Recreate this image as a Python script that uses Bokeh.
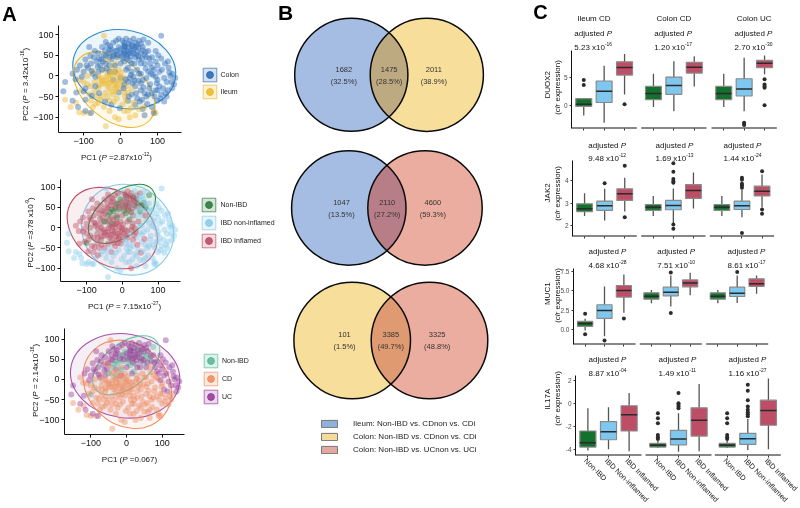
import numpy as np
from bokeh.core.properties import value
from bokeh.embed import file_html
from bokeh.resources import INLINE
from bokeh.plotting import figure
from bokeh.layouts import row, column
from bokeh.models import (ColumnDataSource, Label, Legend, LegendItem, FixedTicker, Range1d)

FONT = "Liberation Sans"

# ---------- PCA samples: (PC1, PC2, tissue+status+disease)
samples = [
 (-30,45,"CNN"),(-25,40,"CNN"),(-20,48,"CNN"),(-35,38,"INN"),(-10,45,"CNN"),(5,42,"CNN"),(10,35,"CNN"),(15,48,"CNN"),(25,38,"CNN"),
 (-85,70,"CFU"),(-70,60,"CFU"),(-60,55,"CFU"),(-50,70,"CFU"),(-35,75,"CFU"),(-20,80,"CFU"),(-10,60,"CFU"),(5,85,"CFU"),(15,90,"CFU"),
 (140,5,"CQU"),(148,-5,"CQU"),(145,-20,"CQU"),(135,0,"CQU"),(125,-15,"CQU"),(115,-30,"CQU"),(105,10,"CQU"),(90,15,"CQU"),(80,30,"CQU"),
 (-150,-58,"IQC"),(-135,-75,"IQC"),(-120,-65,"IQC"),(-112,-88,"IQC"),(-100,-90,"IQC"),(-85,-90,"IQC"),(-75,-75,"IQC"),(-60,-65,"IQC"),
 (-110,-10,"IFC"),(-100,-15,"IFC"),(-90,-20,"IFC"),(-80,-25,"IFC"),(-70,-15,"IFC"),(-60,-30,"IFC"),(-50,-20,"IFC"),(-40,-10,"IFC"),
 (35,55,"CNN"),(45,60,"CNN"),(55,55,"CNN"),(60,62,"CNN"),(40,70,"CNN"),(-5,70,"CNN"),(10,75,"CNN"),(15,60,"CNN"),(0,55,"CNN"),
 (20,70,"CFU"),(25,85,"CFU"),(-95,40,"CFU"),(-80,30,"CFU"),(-65,35,"CFU"),(-55,25,"CFU"),(-45,50,"CFU"),(-25,65,"CFU"),(0,65,"CFU"),
 (-20,-10,"CFC"),(0,-5,"CFC"),(20,-15,"CQC"),(40,-25,"CQC"),(60,-10,"CQC"),(80,-20,"CQC"),(95,-35,"CQC"),(110,-45,"CQC"),(125,-50,"CQC"),
 (-45,-75,"IQC"),(-40,-122,"IQC"),(-30,-85,"IQC"),(-15,-100,"IQC"),(-5,-105,"IQC"),(10,-85,"IQC"),(25,-100,"IFC"),(20,-85,"IQC"),(40,-95,"IQC"),
 (-30,-30,"IFC"),(-25,-15,"IFC"),(-20,0,"IFC"),(-10,-25,"IFC"),(-5,-10,"IFC"),(0,-30,"IFC"),(10,-40,"IQC"),(5,-15,"IFC"),(-35,5,"IFC"),
 (60,70,"CQU"),(75,60,"CQU"),(85,45,"CQU"),(95,35,"CQU"),(110,97,"CQU"),(120,30,"CQU"),(130,20,"CQU"),(70,45,"CQU"),(55,30,"CQU"),
 (10,55,"CFU"),(30,60,"CFU"),(40,80,"CFU"),(50,85,"CFU"),(-110,25,"CFU"),(-100,10,"CFU"),(-75,5,"CFU"),(-60,10,"CFU"),(-30,25,"CFU"),
 (100,-10,"CQC"),(75,10,"CQC"),(50,5,"CQC"),(30,10,"CFC"),(10,-20,"CFC"),(20,-60,"CQC"),(40,-70,"CQC"),(60,-80,"CQC"),(65,-95,"CQC"),
 (50,-80,"IQC"),(65,-75,"IQC"),(90,-85,"IQC"),(95,-90,"IQC"),(35,-65,"IQC"),(15,-60,"IQC"),(-10,-55,"IQC"),(-30,-60,"IFC"),(-50,-50,"IFC"),
 (-45,15,"IFC"),(-25,20,"IFC"),(-15,30,"IFC"),(-5,15,"IFC"),(-60,0,"IFC"),(-75,10,"IFC"),(-90,0,"IFC"),(-105,-35,"IFC"),(-85,-45,"IFC"),
 (-15,60,"CNN"),(-40,30,"CNN"),(-50,15,"CNN"),(-30,10,"CNN"),(-15,25,"CNN"),(20,20,"CNN"),(50,40,"CNN"),(65,50,"CNN"),(30,75,"CNN"),(75,80,"CNN"),(-100,-38,"CNN"),
 (40,45,"CQU"),(25,55,"CQU"),(10,70,"CQU"),(-5,90,"CQU"),(62,88,"CQU"),(35,90,"CQU"),(45,75,"CQU"),(95,60,"CQU"),(-155,-37,"CQU"),(-150,-15,"CQU"),
 (-15,10,"CFU"),(0,30,"CFU"),(15,15,"CFU"),(30,30,"CFU"),(-120,-40,"CFU"),(-130,-60,"CQU"),(-115,-75,"CQU"),(-95,-85,"CQU"),(-80,-90,"CQU"),
 (85,-75,"CQC"),(90,-90,"CQC"),(45,-55,"CQC"),(70,-50,"CQC"),(100,-60,"CQC"),(30,-45,"CQC"),(55,-35,"CQC"),(75,-45,"CQC"),(-5,-40,"CFC"),(-25,-70,"CQC"),
 (-65,-50,"IFC"),(-40,-40,"IFC"),(-20,-45,"IFC"),(20,-40,"IQC"),(30,-30,"IFC"),(-45,97,"IQC"),(-55,-10,"IFC"),(-35,-25,"IFC"),(-15,-30,"IFC"),(15,-25,"IFC"),
 (10,80,"CFU"),(22,78,"CFU"),(32,72,"CFU"),(48,68,"CQU"),(55,78,"CQU"),(68,58,"CQU"),(-12,85,"CFU"),(-28,72,"CFU"),(-42,62,"CFU"),(-8,50,"CFU"),(18,42,"CFU"),(38,30,"CQU"),
 (105,-25,"CQU"),(118,-5,"CQU"),(128,-35,"CQC"),(138,-15,"CQU"),(112,15,"CQU"),(98,-18,"CQC"),(88,2,"CQC"),(100,25,"CQU"),(108,-55,"CQC"),(132,8,"CQU"),
 (-118,15,"CFU"),(-122,-8,"CFC"),(-130,5,"CFC"),(-95,-30,"CFC"),(-88,20,"CFU"),(-72,45,"CFU"),(-58,42,"CFC"),(-68,-2,"CFC"),(-48,35,"CFC"),(-38,18,"CFC"),
 (-80,-60,"IFC"),(-68,-68,"IFC"),(-55,-58,"IQC"),(-35,-50,"IQC"),(-18,-62,"IQC"),(5,-70,"IQC"),(28,-78,"IQC"),(52,-62,"CFC"),(12,-50,"IQC"),(-2,-78,"CQC"),
 (-52,-5,"IFC"),(-42,-18,"IFC"),(-28,-8,"IFC"),(-12,-15,"IFC"),(8,-5,"IFC"),(-22,8,"IFC"),(-8,2,"IFC"),(2,8,"IFC"),(14,-8,"CFC"),(25,-5,"CFC"),
 (33,-18,"CFC"),(48,-12,"CQC"),(42,-42,"CFC"),(62,-28,"CFC"),(70,-5,"CQC"),(85,-42,"CQC"),(68,18,"CQC"),(45,15,"CFC"),(28,2,"CFC"),(58,-58,"CQC"),
 (8,62,"CFU"),(18,52,"CFU"),(28,48,"CFU"),(35,65,"CFU"),(42,52,"CFU"),(12,72,"CFU"),(-18,52,"CFU"),(-32,55,"CFU"),(5,50,"CFU"),(22,62,"CFU"),(48,48,"CQU"),(58,42,"CQU"),
 (-48,-12,"IFC"),(-38,-2,"IFC"),(-32,-18,"IFC"),(-18,-22,"IFC"),(-12,-38,"IFC"),(-24,-38,"IFC"),(-6,-20,"IFC"),(-2,0,"IFC"),(-16,12,"IFC"),(-28,2,"IFC"),(-58,-22,"IFC"),(-70,-38,"IFC"),
 (-78,12,"CFU"),(-62,22,"CFU"),(-52,40,"CFU"),(-40,48,"CFU"),(-82,48,"CFU"),(-92,25,"CFU"),(-105,-2,"CFU"),(-68,-25,"CFC"),(-58,-42,"CFC"),(-78,-48,"CFC"),(-95,-58,"CFC"),(-42,-62,"CQC"),
 (8,-30,"CQC"),(22,-50,"CQC"),(38,-12,"CFC"),(55,-18,"CQC"),(65,-42,"CQC"),(78,-30,"CQC"),(92,-50,"CQC"),(118,-62,"CQC"),(100,-35,"CQC"),(82,5,"CQC"),(122,-42,"CQC"),(72,-68,"CQC"),
 (55,5,"CQC"),(35,-2,"CFC"),(65,30,"CFC"),(85,20,"CQU"),(110,42,"CQU"),(102,50,"CQU"),(128,35,"CQU"),(140,-30,"CQU"),(95,-2,"CQU"),(78,42,"CQU"),(-30,62,"CFU"),(-40,82,"CFU"),
]

tissue_colors = {"C": "#2F6DB8", "I": "#EDB92E"}
status_colors = {"N": "#2E7D3E", "Q": "#8CCBEB", "F": "#BD4F66"}
disease_colors = {"N": "#5DB89B", "C": "#EE8F63", "U": "#9A3D98"}

pc1_labels = [("PC1 (", "P", " =2.87x10", "-12", ")"), ("PC1 (", "P", " = 7.15x10", "-27", ")"), ("PC1 (", "P", " =0.067", "", ")")]
pc2_labels = [("PC2 (", "P", " = 3.42x10", "-16", ")"), ("PC2 (", "P", " =3.78 x10", "-9", ")"), ("PC2 (", "P", " = 2.14x10", "-16", ")")]

# ellipses: centre x, y, width, height (data units), angle (rad), colour
ell_a1 = [(10, 16, 281, 189, -0.2, "#2B8CCF"), (-17, -33, 254, 145, -0.7, "#EDB92E")]
ell_a2 = [(15, -5, 266, 217, -0.7, "#8CCBEB"), (-28, -1, 272, 180, -0.6, "#BD4F66"), (-1, 34, 218, 109, 0.66, "#2E8B47")]
ell_a3 = [(-4, 9, 308, 207, -0.15, "#A84FA8"), (2, -12, 269, 198, -0.78, "#EE8F63"), (-1, 35, 218, 109, 0.66, "#6CC4A8")]

# ---------- Venn
venn_counts = [["1682", "1475", "2011"], ["1047", "2110", "4600"], ["101", "3385", "3325"]]
venn_pcts = [["(32.5%)", "(28.5%)", "(38.9%)"], ["(13.5%)", "(27.2%)", "(59.3%)"], ["(1.5%)", "(49.7%)", "(48.8%)"]]
venn_legend = ["Ileum: Non-IBD vs. CDnon vs. CDi", "Colon: Non-IBD vs. CDnon vs. CDi", "Colon: Non-IBD vs. UCnon vs. UCi"]

# ---------- Box plots, order: three groups x three facets
genes = ["DUOX2", "JAK2", "MUC1", "IL17A"]
groups = ["Non-IBD", "IBD Non-inflamed", "IBD Inflamed"]
facet_titles = ["Ileum CD", "Colon CD", "Colon UC"]

duox2_q1 = [-0.2,0.5,5.35, 1.0,1.95,5.7, 1.0,1.65,6.65]
duox2_med = [0.2,2.5,6.7, 2.1,3.5,6.75, 2.1,2.9,7.45]
duox2_q3 = [1.2,4.3,7.7, 3.35,5.0,7.6, 3.35,4.7,7.95]
duox2_lo = [-1.8,-3.1,1.9, -0.3,-1.05,3.35, -0.3,-1.05,5.5]
duox2_hi = [1.2,7.0,9.1, 5.6,7.8,8.7, 5.6,8.4,8.8]
duox2_out = [[4.5,3.6],[],[0.2], [],[],[], [],[-3.1,-3.3,-3.5],[4.6,3.7,3.35,3.1,0.0]]

jak2_q1 = [2.62,2.68,3.12, 2.68,2.71,3.21, 2.68,2.72,3.32]
jak2_med = [2.75,2.88,3.41, 2.82,2.9,3.56, 2.82,2.88,3.53]
jak2_q3 = [2.97,3.09,3.63, 2.94,3.12,3.82, 2.94,3.09,3.75]
jak2_lo = [2.43,2.24,2.63, 2.43,2.12,2.76, 2.43,2.38,2.82]
jak2_hi = [3.44,3.63,4.12, 3.32,3.65,4.35, 3.32,3.59,4.26]
jak2_out = [[],[3.88],[4.65,2.38], [],[4.76,4.38,4.06,3.97,3.9,2.06,1.87],[], [],[4.12,4.03,3.85,3.78,3.68,1.68],[4.41,2.72,2.53]]

muc1_q1 = [0.43,1.45,4.18, 3.92,4.35,5.5, 3.92,4.26,5.54]
muc1_med = [0.81,2.47,5.03, 4.3,4.81,6.0, 4.3,4.69,5.88]
muc1_q3 = [1.07,3.2,5.67, 4.73,5.45,6.39, 4.73,5.45,6.52]
muc1_lo = [-0.1,-0.85,2.17, 3.4,2.98,4.43, 3.4,3.41,4.6]
muc1_hi = [1.4,5.54,7.07, 5.1,6.95,7.29, 5.1,6.95,6.95]
muc1_out = [[2.05,-0.6],[-1.4],[1.45], [],[7.33,2.13],[], [],[7.41],[]]

il17a_q1 = [-3.82,-3.18,-2.42, -3.82,-3.62,-2.86, -3.82,-3.59,-1.92]
il17a_med = [-3.44,-2.48,-1.02, -3.67,-3.12,-1.49, -3.67,-3.09,-0.64]
il17a_q3 = [-2.42,-1.6,-0.23, -3.5,-2.36,-0.41, -3.5,-2.62,0.26]
il17a_lo = [-4.11,-4.0,-4.17, -3.9,-4.23,-4.17, -3.9,-4.08,-4.0]
il17a_hi = [-0.44,-0.35,0.87, -3.3,-0.87,1.66, -3.3,-1.37,2.13]
il17a_out = [[],[],[], [-0.87,-1.31,-1.75,-2.77,-2.97,-3.12],[0.87,0.0,-0.15,-0.29,-0.44],[],
             [-0.87,-1.31,-1.75,-2.77,-2.97,-3.12],[1.6,1.08,0.26,-0.29,-0.58,-0.79,-0.96,-1.14],[]]

adj_p = [[("5.23 x10","-16"),("1.20 x10","-17"),("2.70 x10","-30")],
         [("9.48 x10","-12"),("1.69 x10","-13"),("1.44 x10","-24")],
         [("4.68 x10","-28"),("7.51 x10","-10"),("8.61 x10","-17")],
         [("8.87 x10","-04"),("1.49 x10","-11"),("1.16 x10","-27")]]

# ---------- overlay holding the free text and legends, page coordinates
ov = figure(width=800, height=508, min_border=0, x_range=Range1d(0, 800), y_range=Range1d(508, 0), x_axis_type=None, y_axis_type=None,
            toolbar_location=None, output_backend="svg", tools="", outline_line_color=None,
            background_fill_color=None, border_fill_color=None, margin=(-508, 0, 0, 0), frame_align=False)
ov.grid.visible = False

W = {" ":.278,".":.278,"-":.333,"=":.584,"(":.333,")":.333,"x":.5,"P":.667,"C":.722,"a":.556,"d":.556,"j":.222,"u":.556,
     "s":.5,"t":.278,"e":.556,"c":.5,"l":.222,"r":.333,"p":.556,"i":.222,"o":.556,"n":.556}
def tw(s, fs):
    return sum(W.get(c, .556) for c in s) * fs

def add_lbl(px, py, text, fs, color="#111111", style="normal", angle=0.0, align="left", baseline="alphabetic"):
    ov.add_layout(Label(x=px, y=py, text=text, text_font=FONT, text_font_size=f"{fs}px", text_color=color,
                        text_font_style=style, text_align=align, text_baseline=baseline, angle=angle))

def rich(cx, cy, segs, fs=8, vertical=False, color="#111111"):
    sizes = [fs * .62 if k == "s" else fs for _, k in segs]
    total = sum(tw(t, s) for (t, _), s in zip(segs, sizes))
    pos = -total / 2
    for (t, k), s in zip(segs, sizes):
        if not t:
            continue
        rise = fs * .38 if k == "s" else 0
        style = "italic" if k == "i" else "normal"
        stripped = t.lstrip(" ")
        lead = tw(t[:len(t) - len(stripped)], s)
        body = stripped.rstrip(" ")
        if vertical:
            add_lbl(cx + fs * .35 - rise, cy - pos - lead, body, s, color, style, angle=np.pi / 2)
        else:
            add_lbl(cx + pos + lead, cy + fs * .35 - rise, body, s, color, style)
        pos += tw(t, s)

def base_fig(width, height, fl, fr, ft, fb, xr, yr):
    p = figure(width=width, height=height, min_border_left=fl, min_border_right=fr, min_border_top=ft, min_border_bottom=fb,
               x_range=Range1d(*xr), y_range=Range1d(*yr), toolbar_location=None, output_backend="svg",
               tools="", outline_line_color=None, background_fill_color=None, border_fill_color=None, frame_align=False)
    p.grid.visible = False
    return p

def pca_panel(width, height, fl, fr, ft, fb, xr, yr, key, colors, ells, labels, ticks_y, lab_pos, legend_cfg):
    p = base_fig(width, height, fl, fr, ft, fb, xr, yr)
    for ax in (p.xaxis[0], p.yaxis[0]):
        ax.axis_line_color = "#111111"; ax.axis_line_width = 1
        ax.major_tick_line_color = "#111111"; ax.major_tick_out = 3; ax.major_tick_in = 0
        ax.minor_tick_line_color = None
        ax.major_label_text_font = FONT; ax.major_label_text_font_size = "9px"; ax.major_label_text_color = "#111111"
        ax.major_label_standoff = 2
    p.xaxis[0].ticker = FixedTicker(ticks=[-100, 0, 100])
    p.xaxis[0].major_label_overrides = {-100: "\u2212100", 0: "0", 100: "100"}
    p.yaxis[0].ticker = FixedTicker(ticks=ticks_y)
    p.yaxis[0].major_label_overrides = {t: (("\u2212" + str(-t)) if t < 0 else str(t)) for t in ticks_y}
    for cx, cy, w_, h_, a, c in ells:
        p.ellipse(x=[cx], y=[cy], width=[w_], height=[h_], angle=[a], fill_color=c, fill_alpha=.09, line_color=c, line_width=1.1)
    src = ColumnDataSource(dict(x=[s[0] for s in samples], y=[s[1] for s in samples],
                                c=[colors[s[2][key]] for s in samples]))
    p.scatter("x", "y", source=src, size=6, fill_color="c", line_color=None, fill_alpha=.45)
    items = []
    for name, code in legend_cfg["items"]:
        c = colors[code]
        q = ov.quad(left=[np.nan], right=[np.nan], top=[np.nan], bottom=[np.nan], fill_color=c, fill_alpha=.2, line_color=c, line_alpha=.7, line_width=1)
        s = ov.scatter(x=[np.nan], y=[np.nan], size=7, fill_color=c, fill_alpha=.9, line_color=c)
        items.append(LegendItem(label=name, renderers=[q, s]))
    leg = Legend(items=items, location=legend_cfg["loc"], glyph_width=17, glyph_height=17, label_height=17, label_width=10,
                 label_standoff=legend_cfg["standoff"], spacing=legend_cfg["spacing"], margin=0, padding=0,
                 border_line_color=None, background_fill_color=None, background_fill_alpha=0,
                 label_text_font=FONT, label_text_font_size="7px", label_text_color="#222222", label_text_baseline="middle")
    ov.add_layout(leg)
    a, b_, c_, d, e = labels[0]
    rich(lab_pos[0], lab_pos[1], [(a, "n"), (b_, "i"), (c_, "n"), (d, "s"), (e, "n")])
    a, b_, c_, d, e = labels[1]
    rich(lab_pos[2], lab_pos[3], [(a, "n"), (b_, "i"), (c_, "n"), (d, "s"), (e, "n")], vertical=True)
    return p

a1 = pca_panel(276, 165, 58, 95, 25, 33, (-168, 165), (-137, 122), 0, tissue_colors, ell_a1,
               (pc1_labels[0], pc2_labels[0]), [-100, -50, 0, 50, 100], (116, 154, 22, 84),
               dict(items=[("Colon", "C"), ("Ileum", "I")], loc=(200.5, 408.5), standoff=3, spacing=0))
a2 = pca_panel(276, 153, 60, 96, 14, 37, (-173, 163), (-133, 119), 1, status_colors, ell_a2,
               (pc1_labels[1], pc2_labels[1]), [-100, -50, 0, 50, 100], (124, 303, 27, 232),
               dict(items=[("Non-IBD", "N"), ("IBD non-inflamed", "Q"), ("IBD Inflamed", "F")], loc=(199.5, 259), standoff=4, spacing=1))
a3 = pca_panel(276, 190, 64, 92, 10, 74, (-174, 162.5), (-136, 126), 2, disease_colors, ell_a3,
               (pc1_labels[2], pc2_labels[2]), [-100, -50, 0, 50, 100], (129, 455.7, 32, 380),
               dict(items=[("Non-IBD", "N"), ("CD", "C"), ("UC", "U")], loc=(202, 103.5), standoff=3, spacing=1))
col_a = column(a1, a2, a3, spacing=0)
add_lbl(9, 13, "A", 20, "#000000", "bold", align="center", baseline="middle")
add_lbl(285, 12, "B", 21, "#000000", "bold", align="center", baseline="middle")
add_lbl(540, 11, "C", 20, "#000000", "bold", align="center", baseline="middle")

# ---------- Panel B
b = figure(width=254, height=508, min_border=0, x_range=Range1d(276, 530), y_range=Range1d(508, 0), x_axis_type=None, y_axis_type=None,
           toolbar_location=None, output_backend="svg", tools="", outline_line_color=None, background_fill_color=None, border_fill_color=None, frame_align=False)
b.grid.visible = False
BLUE, YEL, SAL = "#A5BCE3", "#F7DE9B", "#EBAD9F"
venn_geom = [(350.8, 426.3, 74.3, 56.6, BLUE, YEL, "#BDAA80", 69.3, 80.7, (343.3, 388.7, 433.3)),
             (348.3, 424.5, 207.5, 57.2, BLUE, SAL, "#B77E88", 202.3, 214, (341, 386.7, 432.3)),
             (351.7, 429, 340, 58.3, YEL, SAL, "#DF9A72", 334.3, 346, (344, 390.3, 436.7))]
for i, (lx, rx, cy, r, cl, cr, cm, ty1, ty2, txs) in enumerate(venn_geom):
    b.circle(x=[lx], y=[cy], radius=r, fill_color=cl, line_color=None)
    b.circle(x=[rx], y=[cy], radius=r, fill_color=cr, line_color=None)
    hw = np.arccos((rx - lx) / 2 / r)
    t1 = np.linspace(-hw, hw, 60)
    t2 = np.linspace(np.pi - hw, np.pi + hw, 60)
    b.patch(np.r_[lx + r * np.cos(t1), rx + r * np.cos(t2)], np.r_[cy + r * np.sin(t1), cy + r * np.sin(t2)], fill_color=cm, line_color=None)
    b.circle(x=[lx, rx], y=[cy, cy], radius=r, fill_color=None, line_color="#0A0A0A", line_width=1.5)
    b.text(x=list(txs), y=[ty1] * 3, text=venn_counts[i], text_font_size="7.5px", text_align="center", text_baseline="middle", text_color="#333333", text_font=value(FONT))
    b.text(x=list(txs), y=[ty2] * 3, text=venn_pcts[i], text_font_size="7.5px", text_align="center", text_baseline="middle", text_color="#333333", text_font=value(FONT))
b_items = []
for lab, c in zip(venn_legend, ["#8FB2DC", "#F3DC9A", "#E3A8A0"]):
    q = ov.quad(left=[np.nan], right=[np.nan], top=[np.nan], bottom=[np.nan], fill_color=c, line_color="#777777", line_width=1)
    b_items.append(LegendItem(label=lab, renderers=[q]))
ov.add_layout(Legend(items=b_items, location=(319, 54), glyph_width=20, glyph_height=9, label_height=9, label_width=10,
                     label_standoff=14, spacing=4, margin=0, padding=0, border_line_color=None, background_fill_alpha=0,
                     background_fill_color=None, label_text_font=FONT, label_text_font_size="8px", label_text_color="#222222",
                     label_text_baseline="middle"))

# ---------- Panel C
BOX_COL = ["#13702E", "#7EC8F0", "#BE4D66"]

def box_row(height, fl, ft, fb, yr, starts, fwidth, yticks, ylabs, data, head, ylab_y, row_idx, last=False):
    q1, med, q3, lo, hi, out = data
    ppu = fwidth / 3.2
    frame_left = 530 + fl
    offs = [(s - frame_left) / ppu for s in starts]
    xr = (0.4, 0.4 + (800 - frame_left) / ppu)
    p = base_fig(270, height, fl, 0, ft, fb, xr, yr)
    X = []
    for o in offs:
        X += [round(o + k, 4) for k in (1, 2, 3)]
    cols = BOX_COL * 3
    p.segment(x0=[.4 + o for o in offs], x1=[3.6 + o for o in offs], y0=[yr[0]] * 3, y1=[yr[0]] * 3, line_color="#111111", line_width=2)
    p.segment(x0=X, x1=X, y0=lo, y1=hi, line_color="#555555", line_width=1.3)
    p.vbar(x=X, width=.78, top=q3, bottom=q1, fill_color=cols, line_color="#8A8A8A", line_width=1.2)
    p.segment(x0=[x - .39 for x in X], x1=[x + .39 for x in X], y0=med, y1=med, line_color="#2B2B2B", line_width=1.5)
    ox = [x for x, o_ in zip(X, out) for _ in o_]
    oy = [v for o_ in out for v in o_]
    p.scatter(ox, oy, size=4, fill_color="#2B2B2B", line_color=None)
    xa = p.xaxis[0]
    xa.axis_line_color = None
    xa.ticker = FixedTicker(ticks=X)
    xa.major_tick_line_color = "#333333"; xa.major_tick_out = 2; xa.major_tick_in = 0
    xa.minor_tick_line_color = None
    xa.major_label_overrides = {x: "" for x in X}
    if last:
        for i, x in enumerate(X):
            px = frame_left + (x - .4) * ppu
            add_lbl(px - 2.5, 459, groups[i % 3], 7.4, "#222222", angle=-np.pi / 4, baseline="middle")
    ya = p.yaxis[0]
    ya.ticker = FixedTicker(ticks=yticks)
    ya.major_label_overrides = ylabs
    ya.major_label_text_font = FONT; ya.major_label_text_font_size = "6.5px"; ya.major_label_text_color = "#4D4D4D"
    ya.axis_line_color = "#111111"; ya.major_tick_line_color = "#333333"; ya.major_tick_out = 2; ya.major_tick_in = 0
    ya.minor_tick_line_color = None; ya.major_label_standoff = 2
    for i, cx in enumerate(head["cx"]):
        if "t0" in head:
            rich(cx, head["t0"], [(facet_titles[i], "n")])
        rich(cx, head["t1"], [("adjusted ", "n"), ("P", "i")])
        rich(cx, head["t2"], [(adj_p[row_idx][i][0], "n"), (adj_p[row_idx][i][1], "s")])
    rich(544, ylab_y, [(genes[row_idx], "n")], vertical=True)
    rich(554, ylab_y, [("(", "n"), ("clr", "i"), (" expression)", "n")], vertical=True)
    return p

c1 = box_row(135, 41, 50, 7, (-4.1, 9.7), [571, 640.7, 711], 65.3, [0, 5], {0: "0", 5: "5"},
             (duox2_q1, duox2_med, duox2_q3, duox2_lo, duox2_hi, duox2_out),
             dict(cx=[592.7, 672.7, 753], t0=15, t1=30, t2=44), 87, 0)
c2 = box_row(107, 42, 25, 6, (1.53, 4.88), [572, 640.7, 709.3], 64.3, [2, 3, 4], {2: "2", 3: "3", 4: "4"},
             (jak2_q1, jak2_med, jak2_q3, jak2_lo, jak2_hi, jak2_out),
             dict(cx=[606.7, 674, 742], t1=141.7, t2=155), 193, 1)
c3 = box_row(108, 43, 26, 6, (-1.9, 7.85), [573, 639.3, 705.7], 62, [0, 2.5, 5, 7.5], {0: "0.0", 2.5: "2.5", 5: "5.0", 7.5: "7.5"},
             (muc1_q1, muc1_med, muc1_q3, muc1_lo, muc1_hi, muc1_out),
             dict(cx=[607, 675.7, 746], t1=247.7, t2=261.7), 295, 2)
c4 = box_row(158, 45, 25, 53, (-4.55, 2.4), [575, 645, 714.3], 66, [-4, -2, 0, 2], {-4: "-4", -2: "-2", 0: "0", 2: "2"},
             (il17a_q1, il17a_med, il17a_q3, il17a_lo, il17a_hi, il17a_out),
             dict(cx=[607, 677, 747], t1=356, t2=370), 398, 3, last=True)
col_c = column(c1, c2, c3, c4, spacing=0)

root = column(row(col_a, b, col_c, spacing=0), ov, spacing=0,
              styles={"position": "fixed", "left": "0px", "top": "0px"})
open("out.html", "w").write(file_html(root, INLINE))
